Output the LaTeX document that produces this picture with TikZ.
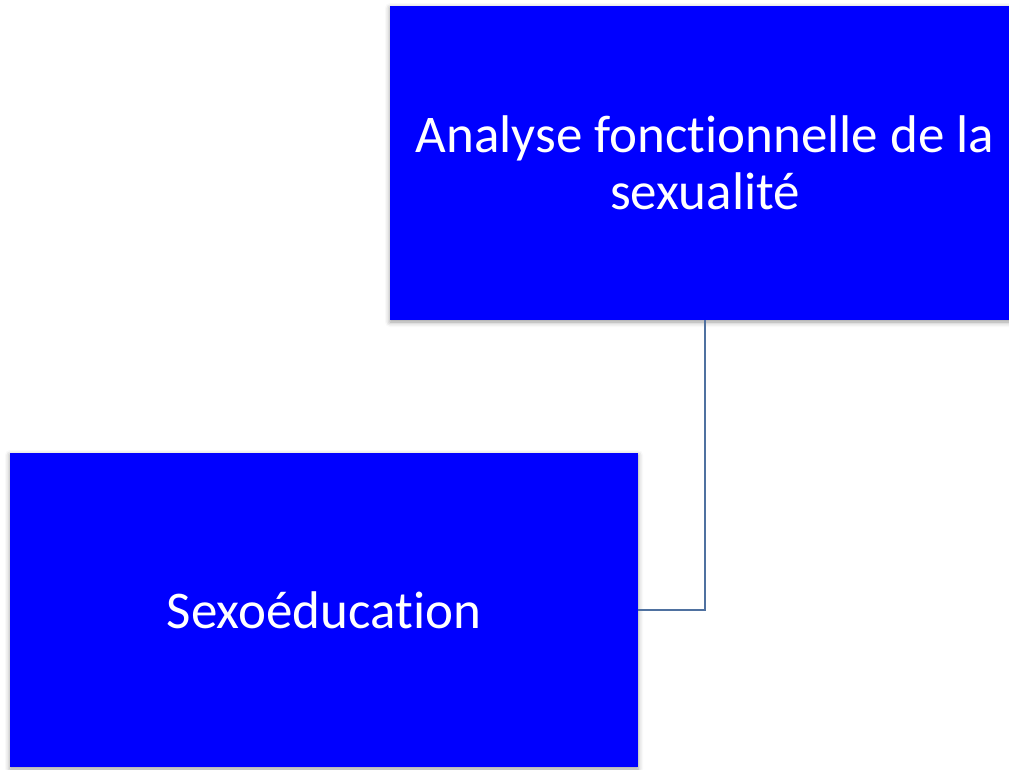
\documentclass[tikz,border=0pt]{standalone}
\usepackage{fontspec}
\setmainfont[Ligatures=CommonOff]{Carlito}
\usetikzlibrary{shadows.blur}
\definecolor{boxblue}{RGB}{0, 0, 255}
\definecolor{linkblue}{RGB}{79, 113, 160}
\tikzset{
  blockbox/.style={fill=boxblue, text=white, align=center, inner sep=0pt,
    blur shadow={shadow xshift=0pt, shadow yshift=-2pt, shadow blur radius=5pt, shadow opacity=40},
    font=\fontsize{53}{57}\selectfont},
  linkline/.style={draw=linkblue, line width=2pt}
}
\begin{document}
\begin{tikzpicture}[x=1pt,y=-1pt]
\useasboundingbox (0,0) rectangle (1009,769);
\begin{scope}
\clip (0,0) rectangle (1009,769);
\node (analyse) [blockbox, minimum width=630pt, minimum height=314pt] at (705,163)
  {Analyse fonctionnelle de la\\sexualité};
\node (sexo) [blockbox, minimum width=628pt, minimum height=314pt] at (324,610)
  {Sexoéducation};
\draw [linkline] (analyse.south) |- (sexo.east);
\end{scope}
\end{tikzpicture}
\end{document}
